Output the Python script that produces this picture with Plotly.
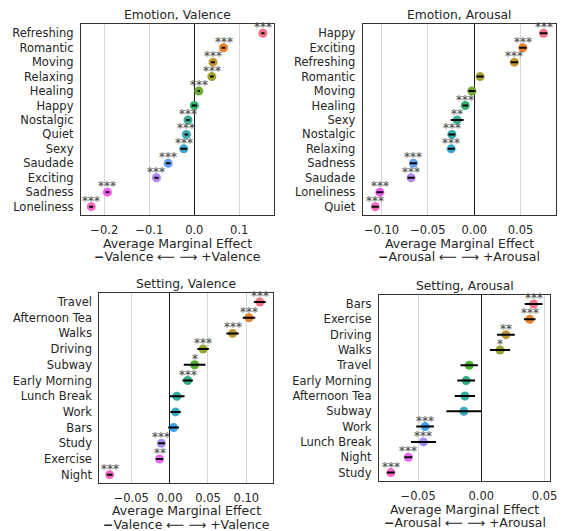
import math
import plotly.graph_objects as go

# ---------------- data ----------------
emo_val_cats = ["Refreshing", "Romantic", "Moving", "Relaxing", "Healing", "Happy", "Nostalgic",
                "Quiet", "Sexy", "Saudade", "Exciting", "Sadness", "Loneliness"]
emo_val_ame = [0.1526, 0.065, 0.0416, 0.039, 0.0102, 0.0, -0.0139, -0.0175, -0.0234, -0.058,
               -0.084, -0.193, -0.229]
emo_val_err = [0.0036, 0.004, 0.0045, 0.004, 0.0026, 0.0055, 0.004, 0.004, 0.0077, 0.005, 0.0047,
               0.004, 0.0044]
emo_val_sig = ["***", "***", "***", "***", "***", "", "***", "***", "***", "***", "***", "***", "***"]

emo_aro_cats = ["Happy", "Exciting", "Refreshing", "Romantic", "Moving", "Healing", "Sexy",
                "Nostalgic", "Relaxing", "Sadness", "Saudade", "Loneliness", "Quiet"]
emo_aro_ame = [0.0748, 0.0525, 0.0433, 0.0064, -0.0025, -0.0096, -0.0184, -0.0241, -0.0248,
               -0.0656, -0.0681, -0.1018, -0.1067]
emo_aro_err = [0.004, 0.004, 0.004, 0.0037, 0.0038, 0.003, 0.007, 0.0037, 0.0037, 0.0037, 0.0038,
               0.0037, 0.0038]
emo_aro_sig = ["***", "***", "***", "", "", "***", "**", "***", "***", "***", "***", "***", "***"]

set_val_cats = ["Travel", "Afternoon Tea", "Walks", "Driving", "Subway", "Early Morning",
                "Lunch Break", "Work", "Bars", "Study", "Exercise", "Night"]
set_val_ame = [0.1175, 0.1034, 0.0821, 0.0436, 0.0325, 0.0235, 0.0094, 0.0077, 0.0051, -0.0107,
               -0.0132, -0.0782]
set_val_err = [0.0077, 0.0081, 0.0081, 0.0075, 0.0141, 0.0068, 0.010, 0.0068, 0.007, 0.0043,
               0.0047, 0.0036]
set_val_sig = ["***", "***", "***", "***", "*", "***", "", "", "", "***", "**", "***"]

set_aro_cats = ["Bars", "Exercise", "Driving", "Walks", "Travel", "Early Morning", "Afternoon Tea",
                "Subway", "Work", "Lunch Break", "Night", "Study"]
set_aro_ame = [0.0414, 0.0383, 0.0195, 0.0148, -0.0096, -0.012, -0.013, -0.0138, -0.0445, -0.0458,
               -0.0578, -0.0716]
set_aro_err = [0.007, 0.0046, 0.007, 0.008, 0.0069, 0.007, 0.008, 0.0138, 0.007, 0.0099, 0.0031,
               0.0031]
set_aro_sig = ["***", "***", "**", "*", "", "", "", "", "***", "***", "***", "***"]


# ---------------- HUSL palette ----------------
_M = [[3.2406, -1.5372, -0.4986], [-0.9689, 1.8758, 0.0415], [0.0557, -0.2040, 1.0570]]
_REF_U, _REF_V = 0.19784, 0.46834
_KAPPA, _EPS = 903.3, 0.008856


def _max_chroma(L, H):
    hrad = math.radians(H)
    sinH, cosH = math.sin(hrad), math.cos(hrad)
    sub1 = (L + 16) ** 3 / 1560896.0
    sub2 = sub1 if sub1 > _EPS else L / _KAPPA
    result = float("inf")
    for m1, m2, m3 in _M:
        top = (0.99915 * m1 + 1.05122 * m2 + 1.14460 * m3) * sub2
        rbottom = 0.86330 * m3 - 0.17266 * m2
        lbottom = 0.12949 * m3 - 0.38848 * m1
        bottom = (rbottom * sinH + lbottom * cosH) * sub2
        for t in (0.0, 1.0):
            C = L * (top - 1.05122 * t) / (bottom + 0.17266 * sinH * t)
            if 0.0 < C < result:
                result = C
    return result


def _husl_to_rgb(h, s, l):
    C = _max_chroma(l, h) / 100.0 * s
    U, V = math.cos(math.radians(h)) * C, math.sin(math.radians(h)) * C
    Y = ((l + 16) / 116.0) ** 3 if l > 8 else l / _KAPPA
    vu = U / (13 * l) + _REF_U
    vv = V / (13 * l) + _REF_V
    X = -(9 * Y * vu) / ((vu - 4) * vv - vu * vv)
    Z = (9 * Y - 15 * vv * Y - vv * X) / (3 * vv)
    out = []
    for row in _M:
        c = row[0] * X + row[1] * Y + row[2] * Z
        c = 12.92 * c if c <= 0.0031308 else 1.055 * c ** (1 / 2.4) - 0.055
        out.append(min(max(c, 0.0), 1.0))
    return "rgb({},{},{})".format(*[round(v * 255) for v in out])


def husl_palette(n, h=0.01, s=0.9, l=0.65):
    cols = []
    for i in range(n):
        hue = ((i / n + h) % 1) * 359
        cols.append(_husl_to_rgb(hue, s * 99, l * 99))
    return cols


# ---------------- figure ----------------
W, H = 568, 531
FONT = "DejaVu Sans"
TXT = "#262626"

panels = [
    dict(title="Emotion, Valence", cats=emo_val_cats, ame=emo_val_ame, err=emo_val_err, sig=emo_val_sig,
         box=(82, 24.3, 277.5, 215.3), xr=(-0.2518, 0.1774), yr=(12.6, -0.62),
         tv=[-0.2, -0.1, 0.0, 0.1], tt=["\u22120.2", "\u22120.1", "0.0", "0.1"], dim="Valence"),
    dict(title="Emotion, Arousal", cats=emo_aro_cats, ame=emo_aro_ame, err=emo_aro_err, sig=emo_aro_sig,
         box=(367.3, 24.3, 563, 215.3), xr=(-0.1202, 0.0883), yr=(12.6, -0.62),
         tv=[-0.10, -0.05, 0.0, 0.05], tt=["\u22120.10", "\u22120.05", "0.00", "0.05"], dim="Arousal"),
    dict(title="Setting, Valence", cats=set_val_cats, ame=set_val_ame, err=set_val_err, sig=set_val_sig,
         box=(100.7, 293.3, 276.3, 482.7), xr=(-0.0915, 0.1346), yr=(11.51, -0.554),
         tv=[-0.05, 0.0, 0.05, 0.10], tt=["\u22120.05", "0.00", "0.05", "0.10"], dim="Valence"),
    dict(title="Setting, Arousal", cats=set_aro_cats, ame=set_aro_ame, err=set_aro_err, sig=set_aro_sig,
         box=(383.7, 295, 557.3, 481), xr=(-0.081, 0.0547), yr=(11.55, -0.587),
         tv=[-0.05, 0.0, 0.05], tt=["\u22120.05", "0.00", "0.05"], dim="Arousal"),
]

fig = go.Figure()
annotations = []
layout = {}

for i, p in enumerate(panels, start=1):
    xa = "x" if i == 1 else f"x{i}"
    ya = "y" if i == 1 else f"y{i}"
    x0, y0, x1, y1 = p["box"]
    n = len(p["cats"])
    idx = list(range(n))
    colors = husl_palette(n)

    # coloured point estimates
    fig.add_trace(go.Scatter(
        x=p["ame"], y=idx, mode="markers", xaxis=xa, yaxis=ya, showlegend=False,
        marker=dict(size=9, color=colors, line=dict(width=0)), hoverinfo="skip"))

    # confidence intervals drawn over the points
    ex, ey = [], []
    for v, e, k in zip(p["ame"], p["err"], idx):
        ex += [v - e, v + e, None]
        ey += [k, k, None]
    fig.add_trace(go.Scatter(
        x=ex, y=ey, mode="lines", xaxis=xa, yaxis=ya, showlegend=False,
        line=dict(color="black", width=2), hoverinfo="skip"))

    # significance stars
    for v, s, k in zip(p["ame"], p["sig"], idx):
        if s:
            annotations.append(dict(
                x=v, y=k, xref=xa, yref=ya, text=s, showarrow=False,
                xanchor="center", yanchor="middle", yshift=6,
                font=dict(family=FONT, size=12, color="#4d4d4d",
                          shadow="0px 0px 1px rgba(77,77,77,0.35)")))

    xkey = "xaxis" if i == 1 else f"xaxis{i}"
    ykey = "yaxis" if i == 1 else f"yaxis{i}"
    layout[xkey] = dict(
        domain=[x0 / W, x1 / W], range=list(p["xr"]), anchor=ya,
        tickmode="array", tickvals=p["tv"], ticktext=p["tt"], ticks="",
        showgrid=True, gridcolor="#d6d6d6", gridwidth=1.3,
        zeroline=True, zerolinecolor="#1a1a1a", zerolinewidth=1.4,
        showline=True, linecolor="#333333", linewidth=1.4, mirror=True,
        tickfont=dict(family=FONT, size=11.5, color=TXT), ticklabelstandoff=4)
    layout[ykey] = dict(
        domain=[1 - y1 / H, 1 - y0 / H], range=list(p["yr"]), anchor=xa,
        tickmode="array", tickvals=idx, ticktext=p["cats"], ticks="",
        showgrid=False, zeroline=False,
        showline=True, linecolor="#333333", linewidth=1.4, mirror=True,
        tickfont=dict(family=FONT, size=11.5, color=TXT), ticklabelstandoff=4)

    cx = (x0 + x1) / 2 / W
    annotations.append(dict(
        x=cx, y=1 - (y0 - 9) / H, xref="paper", yref="paper", text=p["title"], showarrow=False,
        xanchor="center", yanchor="middle", font=dict(family=FONT, size=12.3, color=TXT)))
    annotations.append(dict(
        x=cx, y=1 - (y1 + 28) / H, xref="paper", yref="paper", text="Average Marginal Effect",
        showarrow=False, xanchor="center", yanchor="middle",
        font=dict(family=FONT, size=12.5, color=TXT)))
    d = p["dim"]
    annotations.append(dict(
        x=cx, y=1 - (y1 + 41.5) / H, xref="paper", yref="paper",
        text=f"<b>\u2212</b>{d} \u27f5 \u27f6 +{d}",
        showarrow=False, xanchor="center", yanchor="middle",
        font=dict(family=FONT, size=12.5, color=TXT)))

fig.update_layout(
    width=W, height=H, margin=dict(l=0, r=0, t=0, b=0),
    paper_bgcolor="white", plot_bgcolor="white",
    annotations=annotations, **layout)

fig.write_html("out.html")
